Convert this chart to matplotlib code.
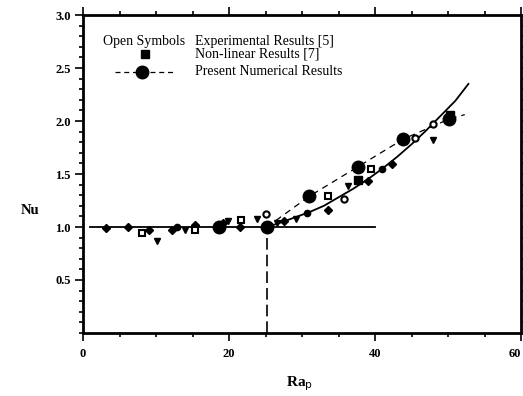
import matplotlib
matplotlib.use("Agg")
import matplotlib.pyplot as plt
from matplotlib.ticker import MultipleLocator

plt.rcParams['font.family'] = ['Liberation Serif', 'DejaVu Serif']

# ---- data ----
# Present numerical results (large filled circles)
present_x = [18.6, 25.2, 31.0, 37.7, 43.9, 50.2]
present_y = [1.00, 1.00, 1.29, 1.57, 1.83, 2.02]
# dashed curve through present results
dash_x = [25.2, 31.0, 37.7, 43.9, 50.2, 52.3]
dash_y = [1.00, 1.29, 1.57, 1.83, 2.02, 2.06]
# Non-linear results [7] (filled squares)
nonlin_x = [37.7, 50.3]
nonlin_y = [1.44, 2.06]
# Experimental results [5]
open_sq_x = [8.1, 15.4, 21.7, 33.5, 39.4]
open_sq_y = [0.94, 0.97, 1.07, 1.29, 1.55]
open_ci_x = [25.1, 35.8, 45.5, 47.9]
open_ci_y = [1.12, 1.26, 1.84, 1.97]
tri_x = [10.1, 14.0, 19.9, 23.8, 26.6, 29.2, 36.3, 47.9]
tri_y = [0.87, 0.97, 1.06, 1.08, 1.04, 1.08, 1.39, 1.82]
dia_x = [3.1, 6.1, 9.0, 12.2, 15.4, 19.2, 21.5, 27.5, 33.5, 39.1, 42.3]
dia_y = [0.99, 1.00, 0.97, 0.97, 1.02, 1.04, 1.00, 1.06, 1.16, 1.43, 1.59]
dot_x = [12.9, 25.4, 30.7, 41.0]
dot_y = [1.00, 0.99, 1.13, 1.55]
# solid curve (supercritical)
curve_x = [25.2, 27, 29, 31, 33, 35, 37, 39, 41, 43, 45, 47, 49, 51, 52.8]
curve_y = [1.00, 1.04, 1.09, 1.14, 1.20, 1.28, 1.36, 1.45, 1.55, 1.66, 1.78, 1.91, 2.05, 2.19, 2.35]
# conduction line and critical Rayleigh number
cond_x = [1.0, 40.0]
cond_y = [1.0, 1.0]
ra_crit = 25.2

x_ticks = [0, 20, 40, 60]
x_ticklabels = ['0', '20', '40', '60']
y_ticks = [0.5, 1.0, 1.5, 2.0, 2.5, 3.0]
y_ticklabels = ['0.5', '1.0', '1.5', '2.0', '2.5', '3.0']

fig = plt.figure(figsize=(5.23, 3.96), dpi=100)
ax = fig.add_axes([83/523, 63/396, 438/523, 318/396])

ax.plot(cond_x, cond_y, color='black', lw=1.3)
ax.plot(curve_x, curve_y, color='black', lw=1.3)
ax.plot(dash_x, dash_y, color='black', lw=0.9, dashes=(5, 4))
ax.plot([ra_crit, ra_crit], [0, 1.0], color='black', lw=1.2, dashes=(7, 3))

ax.plot(dia_x, dia_y, 'D', color='black', ms=3.8, ls='none')
ax.plot(tri_x, tri_y, 'v', color='black', ms=5, ls='none')
ax.plot(dot_x, dot_y, 'o', color='black', ms=4.5, ls='none')
ax.plot(open_sq_x, open_sq_y, 's', mfc='white', mec='black', mew=1.5, ms=4.5, ls='none')
ax.plot(open_ci_x, open_ci_y, 'o', mfc='white', mec='black', mew=1.5, ms=4.5, ls='none')
ax.plot(present_x, present_y, 'o', color='black', ms=9, ls='none')
ax.plot(nonlin_x, nonlin_y, 's', color='black', ms=6, ls='none')

ax.set_xlim(0, 60)
ax.set_ylim(0, 3.0)
ax.xaxis.set_minor_locator(MultipleLocator(5))
ax.yaxis.set_minor_locator(MultipleLocator(0.1))
ax.set_yticks(y_ticks)
ax.set_yticklabels(y_ticklabels)
ax.set_xticks(x_ticks)
ax.set_xticklabels(x_ticklabels)

ax.tick_params(which='both', direction='out', top=True, right=True, width=1.2,
               labelsize=9)
ax.tick_params(which='major', length=6)
ax.tick_params(which='minor', length=3)
ax.tick_params(axis='x', pad=5)
ax.tick_params(axis='y', pad=3)
for lab in ax.get_xticklabels() + ax.get_yticklabels():
    lab.set_fontweight('bold')
ax.get_xticklabels()[-1].set_horizontalalignment('right')
for s in ax.spines.values():
    s.set_linewidth(2)

ax.set_xlabel(r'Ra$_\mathrm{p}$', fontsize=11, fontweight='bold')
ax.xaxis.set_label_coords(0.495, -0.13)
fig.text(30/523, 1 - 210/396, 'Nu', fontsize=10.5, fontweight='bold', ha='center', va='center')

# legend block
tr = ax.transAxes
fs = 10
ax.text(0.046, 0.918, 'Open Symbols', transform=tr, fontsize=fs, va='center', ha='left')
ax.text(0.256, 0.918, 'Experimental Results [5]', transform=tr, fontsize=fs, va='center', ha='left')
ax.plot([0.142], [0.877], 's', color='black', ms=5.5, transform=tr)
ax.text(0.256, 0.877, 'Non-linear Results [7]', transform=tr, fontsize=fs, va='center', ha='left')
ax.plot([0.073, 0.21], [0.821, 0.821], color='black', lw=0.9, dashes=(4, 3), transform=tr)
ax.plot([0.135], [0.821], 'o', color='black', ms=9, transform=tr)
ax.text(0.256, 0.821, 'Present Numerical Results', transform=tr, fontsize=fs, va='center', ha='left')

fig.savefig('out.png', dpi=100)
